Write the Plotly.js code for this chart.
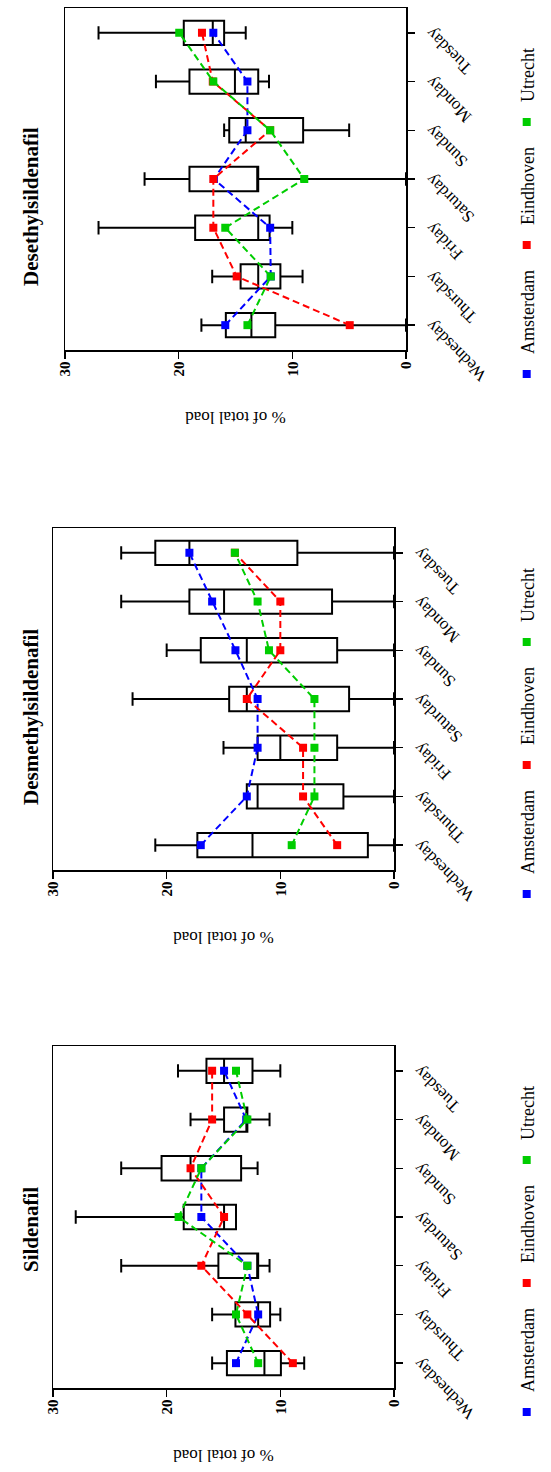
<!DOCTYPE html>
<html>
<head>
<meta charset="utf-8">
<script src="https://cdn.plot.ly/plotly-3.0.1.min.js"></script>
<style>
html, body { margin: 0; padding: 0; overflow: hidden; background: #fff; width: 551px; height: 1472px; }
#chart { position: absolute; left: 0; top: 0; width: 1472px; height: 551px; }
</style>
</head>
<body>
<div id="chart"></div>
<script>
// ---------- data ----------
const days = ['Wednesday', 'Thursday', 'Friday', 'Saturday', 'Sunday', 'Monday', 'Tuesday'];
const cities = ['Amsterdam', 'Eindhoven', 'Utrecht'];
const panelTitles = ['Sildenafil', 'Desmethylsildenafil', 'Desethylsildenafil'];
const yTitle = '% of total load';

// Sildenafil
const sil_q1     = [9.95, 10.9, 11.95, 13.9, 13.45, 12.9, 12.45];
const sil_median = [11.4, 11.95, 11.95, 14.95, 17.9, 12.9, 14.95];
const sil_q3     = [14.7, 13.95, 15.45, 18.5, 20.45, 14.95, 16.5];
const sil_lower  = [7.9, 10.0, 10.95, 13.9, 12.0, 10.95, 10.0];
const sil_upper  = [16.0, 16.0, 24.0, 28.0, 24.0, 17.9, 19.0];
const sil_amsterdam = [13.9, 11.95, 12.9, 16.95, 16.95, 13.0, 14.95];
const sil_eindhoven = [8.9, 12.9, 16.95, 14.95, 17.9, 16.0, 16.0];
const sil_utrecht   = [11.95, 13.9, 12.9, 18.95, 16.95, 12.9, 13.9];

// Desmethylsildenafil
const dm_q1     = [2.3, 4.45, 5.0, 3.95, 5.0, 5.45, 8.5];
const dm_median = [12.45, 12.0, 10.0, 12.95, 12.95, 14.95, 18.0];
const dm_q3     = [17.3, 12.95, 12.0, 14.5, 17.0, 18.0, 21.0];
const dm_lower  = [0, 0, 0, 0, 0, 0, 0];
const dm_upper  = [21.0, 12.95, 15.0, 23.0, 20.0, 24.0, 24.0];
const dm_amsterdam = [17.0, 12.95, 12.0, 12.0, 13.95, 16.0, 18.0];
const dm_eindhoven = [5.0, 8.0, 8.0, 12.95, 10.0, 10.0, 14.0];
const dm_utrecht   = [9.0, 7.0, 7.0, 7.0, 11.0, 12.0, 14.0];

// Desethylsildenafil
const de_q1     = [11.5, 11.05, 12.0, 13.0, 9.05, 13.0, 16.0];
const de_median = [13.6, 13.0, 13.0, 13.0, 14.1, 15.05, 17.0];
const de_q3     = [15.85, 14.55, 18.55, 19.05, 15.55, 19.05, 19.55];
const de_lower  = [0, 9.1, 10.0, 0, 5.0, 12.05, 14.1];
const de_upper  = [18.0, 17.05, 27.05, 23.0, 16.0, 22.0, 27.05];
const de_amsterdam = [15.9, 11.9, 11.95, 16.9, 13.95, 13.95, 16.95];
const de_eindhoven = [4.95, 14.9, 16.95, 16.95, 11.95, 17.0, 17.95];
const de_utrecht   = [13.95, 11.9, 15.9, 8.95, 11.95, 16.95, 19.95];

// ---------- build ----------
const W = 1472, H = 551;
const colors = ['#0000FF', '#FF0000', '#00CD00'];
const FONT = 'Liberation Serif, Times New Roman, serif';

const panels = [
  {stats: [sil_q1, sil_median, sil_q3, sil_lower, sil_upper], series: [sil_amsterdam, sil_eindhoven, sil_utrecht],
   px: [84, 426], py: [53, 394], titleX: 242},
  {stats: [dm_q1, dm_median, dm_q3, dm_lower, dm_upper], series: [dm_amsterdam, dm_eindhoven, dm_utrecht],
   px: [602, 944], py: [53, 394], titleX: 755},
  {stats: [de_q1, de_median, de_q3, de_lower, de_upper], series: [de_amsterdam, de_eindhoven, de_utrecht],
   px: [1122, 1464], py: [65, 406], titleX: 1265}
];

const data = [];
const layout = {
  width: W, height: H,
  margin: {l: 0, r: 0, t: 0, b: 0},
  paper_bgcolor: '#fff', plot_bgcolor: '#fff',
  font: {family: FONT, color: '#000'},
  showlegend: true,
  annotations: []
};

panels.forEach((p, i) => {
  const sfx = i === 0 ? '' : String(i + 1);
  const xa = 'x' + sfx, ya = 'y' + sfx;
  const lg = 'legend' + sfx;
  data.push({
    type: 'box', orientation: 'v', xaxis: xa, yaxis: ya,
    x: days, q1: p.stats[0], median: p.stats[1], q3: p.stats[2],
    lowerfence: p.stats[3], upperfence: p.stats[4],
    boxpoints: false, width: 0.5, whiskerwidth: 0.55,
    fillcolor: 'rgba(0,0,0,0)', line: {color: '#000', width: 2},
    showlegend: false, hoverinfo: 'skip'
  });
  p.series.forEach((s, k) => {
    data.push({
      type: 'scatter', mode: 'lines+markers', xaxis: xa, yaxis: ya,
      x: days, y: s, name: cities[k],
      line: {color: colors[k], width: 2, dash: '7px,4px'},
      marker: {symbol: 'square', size: 8, color: colors[k]},
      showlegend: false
    });
  });
  cities.forEach((c, k) => {
    data.push({
      type: 'scatter', mode: 'markers', xaxis: xa, yaxis: ya,
      x: [null], y: [null], name: c, legend: lg,
      marker: {symbol: 'square', size: 8, color: colors[k]},
      showlegend: true
    });
  });
  layout['xaxis' + sfx] = {
    domain: [p.px[0] / W, p.px[1] / W], anchor: ya,
    type: 'category', categoryorder: 'array', categoryarray: days,
    range: [-0.51, 6.51],
    showline: true, mirror: true, linecolor: '#000', linewidth: 1.5,
    ticks: 'outside', ticklen: 7, tickwidth: 1.5, tickcolor: '#000',
    tickangle: -45, tickfont: {family: FONT, size: 17, color: '#000'},
    showgrid: false, zeroline: false, fixedrange: true
  };
  layout['yaxis' + sfx] = {
    domain: [1 - p.py[1] / H, 1 - p.py[0] / H], anchor: xa,
    range: [0, 30], tickvals: [0, 10, 20, 30],
    showline: true, mirror: true, linecolor: '#000', linewidth: 1.5,
    ticks: 'outside', ticklen: 7, tickwidth: 1.5, tickcolor: '#000',
    tickfont: {family: FONT, size: 15, weight: 'bold', color: '#000'},
    title: {text: yTitle, font: {family: FONT, size: 17, color: '#000'}, standoff: 30},
    showgrid: false, zeroline: false, fixedrange: true
  };
  layout[lg] = {
    orientation: 'h', x: (p.px[0] - 44) / W, y: 1 - 527 / H,
    xanchor: 'left', yanchor: 'middle',
    bgcolor: 'rgba(0,0,0,0)', font: {family: FONT, size: 18, color: '#000'}
  };
  layout.annotations.push({
    text: panelTitles[i], xref: 'paper', yref: 'paper',
    x: p.titleX / W, y: 1 - 31 / H, xanchor: 'center', yanchor: 'middle',
    showarrow: false, font: {family: FONT, size: 21, weight: 'bold', color: '#000'}
  });
});

Plotly.newPlot('chart', data, layout, {staticPlot: true, displayModeBar: false}).then(() => {
  const el = document.getElementById('chart');
  el.style.transformOrigin = '0 0';
  el.style.transform = 'translateY(1472px) rotate(-90deg)';
});
</script>
</body>
</html>
